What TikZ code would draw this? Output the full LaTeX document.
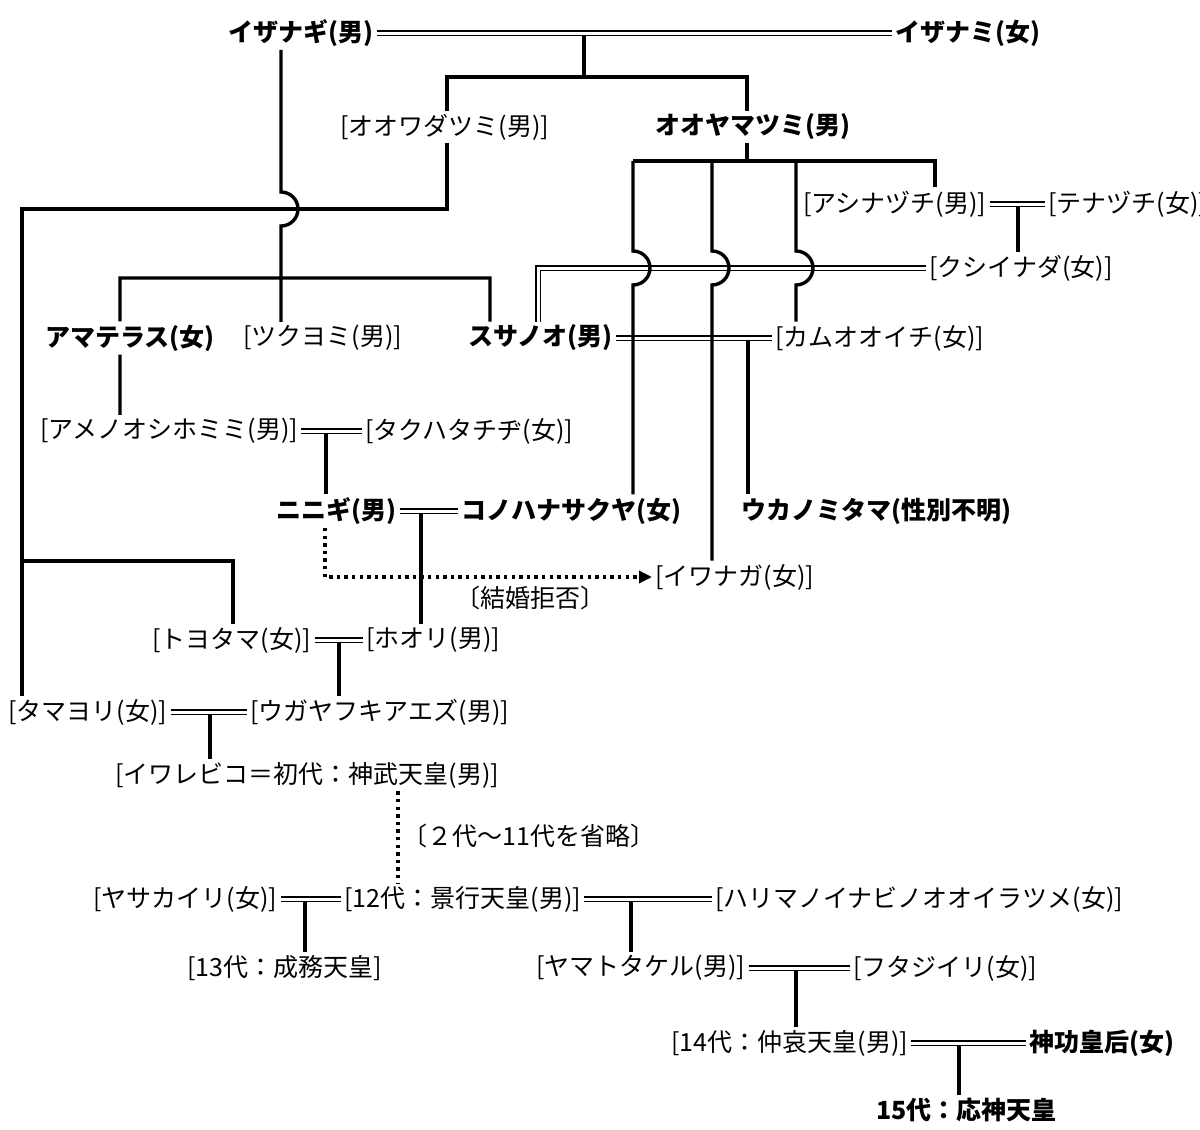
\documentclass[tikz,border=0pt]{standalone}
\usepackage{fontspec}
\setmainfont{Noto Sans CJK JP}
\usetikzlibrary{arrows.meta,calc}

\tikzset{
  kami/.style={anchor=west, inner sep=1.5pt, font=\fontsize{12.5}{15}\selectfont},
  kamib/.style={kami, font=\fontsize{12.5}{15}\selectfont\bfseries},
  oyako/.style={line width=1.7pt},
  fuufu/.style={double, line width=0.95pt, double distance=1.5pt},
  tenten/.style={line width=1.7pt, dash pattern=on 1.7pt off 2.1pt},
}

\begin{document}
\begin{tikzpicture}[x=0.5pt,y=-0.5pt]
		\useasboundingbox (0,0) rectangle (1200,1130);

		% gods
		\node[kamib] (izanagi)   at (225,33)   {イザナギ(男)};
		\node[kamib] (izanami)   at (892,33)   {イザナミ(女)};
		\node[kami]  (owata)     at (337,127)  {[オオワダツミ(男)]};
		\node[kamib] (ooyama)    at (652,127)  {オオヤマツミ(男)};
		\node[kami]  (ashina)    at (800,204)  {[アシナヅチ(男)]};
		\node[kami]  (tena)      at (1045,204) {[テナヅチ(女)]};
		\node[kami]  (kushinada) at (926,268)  {[クシイナダ(女)]};
		\node[kamib] (amaterasu) at (42,338)   {アマテラス(女)};
		\node[kami]  (tsukuyomi) at (240,338)  {[ツクヨミ(男)]};
		\node[kamib] (susanoo)   at (465,338)  {スサノオ(男)};
		\node[kami]  (kamuooichi) at (772,338) {[カムオオイチ(女)]};
		\node[kami]  (amenoo)    at (37,431)   {[アメノオシホミミ(男)]};
		\node[kami]  (takuhata)  at (362,431)  {[タクハタチヂ(女)]};
		\node[kamib] (ninigi)    at (273,511)  {ニニギ(男)};
		\node[kamib] (konohana)  at (458,511)  {コノハナサクヤ(女)};
		\node[kamib] (ukano)     at (738,511)  {ウカノミタマ(性別不明)};
		\node[kami]  (iwanaga)   at (652,577)  {[イワナガ(女)]};
		\node[kami]  (kyohi)     at (452,598)  {〔結婚拒否〕};
		\node[kami]  (toyotama)  at (149,640)  {[トヨタマ(女)]};
		\node[kami]  (hoori)     at (363,640)  {[ホオリ(男)]};
		\node[kami]  (tamayori)  at (5,712)    {[タマヨリ(女)]};
		\node[kami]  (ugaya)     at (247,712)  {[ウガヤフキアエズ(男)]};
		\node[kami]  (iware)     at (112,775)  {[イワレビコ＝初代：神武天皇(男)]};
		\node[kami]  (shoryaku)  at (399,836)  {〔２代〜11代を省略〕};
		\node[kami]  (yasaka)    at (90,899)   {[ヤサカイリ(女)]};
		\node[kami]  (keiko)     at (341,899)  {[12代：景行天皇(男)]};
		\node[kami]  (harima)    at (712,899)  {[ハリマノイナビノオオイラツメ(女)]};
		\node[kami]  (seimu)     at (184,968)  {[13代：成務天皇]};
		\node[kami]  (yamato)    at (533,968)  {[ヤマトタケル(男)]};
		\node[kami]  (futaji)    at (850,968)  {[フタジイリ(女)]};
		\node[kami]  (chuai)     at (668,1043) {[14代：仲哀天皇(男)]};
		\node[kamib] (jingu)     at (1026,1043) {神功皇后(女)};
		\node[kamib] (ojin)      at (873,1110) {15代：応神天皇};

		% branch points
		\coordinate (k1) at (584,77);
		\coordinate (k3) at (447,77);
		\coordinate (k4) at (747,77);
		\coordinate (h1) at (281,209);
		\coordinate (k2) at (281,278);
		\coordinate (b1) at (120,278);
		\coordinate (b2) at (490,278);
		\coordinate (t1) at (447,209);
		\coordinate (t2) at (22,209);
		\coordinate (t3) at (22,561);
		\coordinate (t4) at (233,561);
		\coordinate (o1) at (747,161);
		\coordinate (y1) at (633,161);
		\coordinate (y2) at (712,161);
		\coordinate (y3) at (796,161);
		\coordinate (y4) at (935,161);
		\coordinate (s1) at (538,0);
		\coordinate (a1) at (1018,0);
		\coordinate (u1) at (748,0);
		\coordinate (n1) at (326,0);
		\coordinate (n2) at (421,0);
		\coordinate (r1) at (325,0);
		\coordinate (w1) at (339,0);
		\coordinate (w2) at (210,0);
		\coordinate (e1) at (398,0);
		\coordinate (e2) at (305,0);
		\coordinate (e3) at (631,0);
		\coordinate (e4) at (796,0);
		\coordinate (e5) at (959,0);

		% parent-child lines
		\draw	[oyako] (k1 |- izanagi.east) -- (k1)
				(k3 |- owata.north) -- (k3) -- (k4) -- (k4 |- ooyama.north);
		\draw	[oyako] (t1 |- owata.south) -- (t1) -- (t2) -- (t2 |- tamayori.north)
				(t3) -- (t4) -- (t4 |- toyotama.north);
		\draw	[oyako] (h1 |- izanagi.south) -- ($(h1)+(0,-17)$)
				arc[start angle=90, end angle=-90, radius=8.5pt] -- (k2)
				(b1 |- amaterasu.north) -- (b1) -- (b2) -- (b2 |- susanoo.north)
				(k2) -- (k2 |- tsukuyomi.north)
				(b1 |- amaterasu.south) -- (b1 |- amenoo.north);
		\draw	[oyako] (o1 |- ooyama.south) -- (o1)
				(y1) -- (y4) -- (y4 |- ashina.north);
		\draw	[oyako] (a1 |- ashina.east) -- (a1 |- kushinada.north)
				(u1 |- susanoo.east) -- (u1 |- ukano.north)
				(n1 |- amenoo.east) -- (n1 |- ninigi.north)
				(n2 |- ninigi.east) -- (n2 |- hoori.north)
				(w1 |- toyotama.east) -- (w1 |- ugaya.north)
				(w2 |- tamayori.east) -- (w2 |- iware.north)
				(e2 |- yasaka.east) -- (e2 |- seimu.north)
				(e3 |- keiko.east) -- (e3 |- yamato.north)
				(e4 |- yamato.east) -- (e4 |- chuai.north)
				(e5 |- chuai.east) -- (e5 |- ojin.north);

		% marriages
		\draw	[fuufu] (izanagi.east) -- (izanami.west);
		\draw	[fuufu] (s1 |- susanoo.north) -- (s1 |- kushinada.west) -- (kushinada.west);
		\draw	[fuufu] (ashina.east) -- (tena.west)
				(susanoo.east) -- (kamuooichi.west)
				(amenoo.east) -- (takuhata.west)
				(ninigi.east) -- (konohana.west)
				(toyotama.east) -- (hoori.west)
				(tamayori.east) -- (ugaya.west)
				(yasaka.east) -- (keiko.west)
				(keiko.east) -- (harima.west)
				(yamato.east) -- (futaji.west)
				(chuai.east) -- (jingu.west);

		% Oyamatsumi's children, hopping the Susanoo line
		\foreach \c/\n in {y1/konohana, y2/iwanaga, y3/kamuooichi}
			\draw [oyako] (\c) -- ($(\c |- kushinada.west)+(0,-17)$)
				arc[start angle=90, end angle=-90, radius=8.5pt] -- (\c |- \n.north);

		% refusal and omitted generations
		\draw	[tenten, -{Triangle[length=6.5pt, width=6pt]}] (r1 |- ninigi.south) -- (r1 |- iwanaga.west) -- (iwanaga.west);
		\draw	[tenten] (e1 |- iware.south) -- (e1 |- keiko.north);
	\end{tikzpicture}
\end{document}
